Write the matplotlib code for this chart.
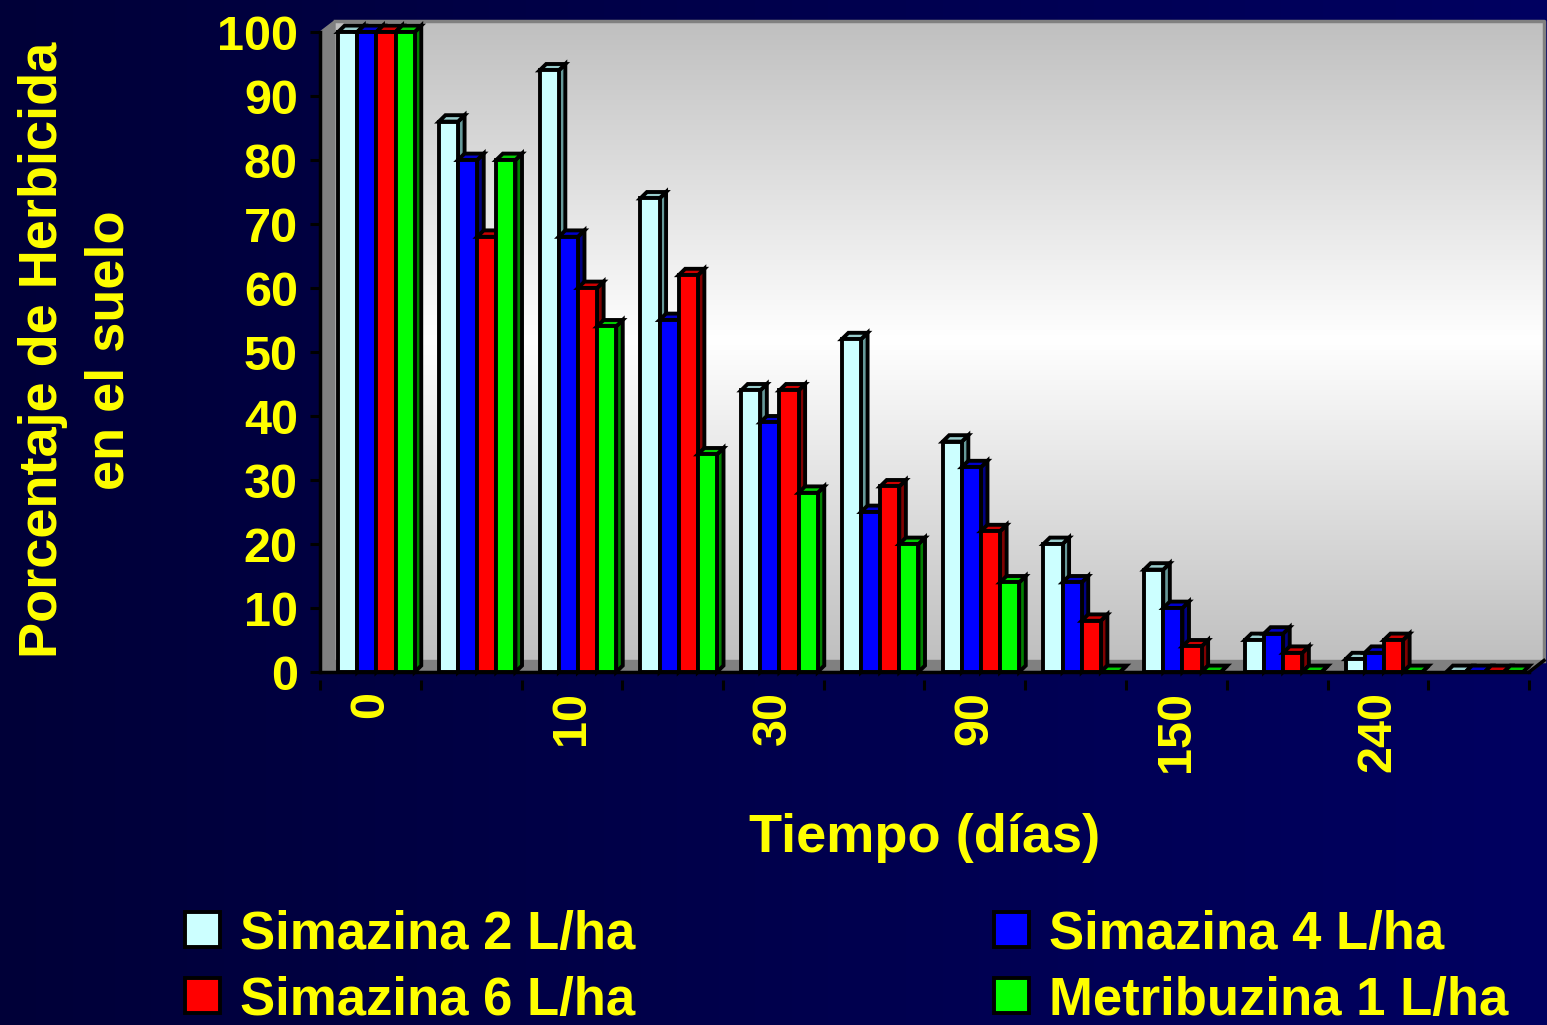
import matplotlib
matplotlib.use("Agg")
import matplotlib.pyplot as plt
import numpy as np
from matplotlib.patches import Polygon, Rectangle

# data
tiempo = ["0", "", "10", "", "30", "", "90", "", "150", "", "240", ""]
series = ["Simazina 2 L/ha", "Simazina 4 L/ha", "Simazina 6 L/ha", "Metribuzina 1 L/ha"]
simazina_2 = [100, 86, 94, 74, 44, 52, 36, 20, 16, 5, 2, 0]
simazina_4 = [100, 80, 68, 55, 39, 25, 32, 14, 10, 6, 3, 0]
simazina_6 = [100, 68, 60, 62, 44, 29, 22, 8, 4, 3, 5, 0]
metribuzina_1 = [100, 80, 54, 34, 28, 20, 14, 0, 0, 0, 0, 0]

front = ["#CCFFFF", "#0000FF", "#FF0000", "#00FF00"]
side = ["#669999", "#000080", "#800000", "#008000"]
top = ["#99CCCC", "#0000CC", "#CC0000", "#00CC00"]

yellow = "#FFFF00"
font = "Liberation Sans"
W, H = 1547, 1025

fig = plt.figure(figsize=(W / 100, H / 100), dpi=100)

# navy background
bg = fig.add_axes([0, 0, 1, 1], zorder=-10)
grad = np.linspace(0, 1, 256)[None, :]
navy = np.zeros((1, 256, 3))
navy[..., 2] = 0.22 + 0.16 * grad
bg.imshow(navy, aspect="auto", extent=(0, 1, 0, 1))
bg.axis("off")

# axes placed in pixels: x=0 at 320px, y=0 at 672px, y=100 at 32px
x0px, x1px = 320, 1547
y_per_px = 100 / 640
xmax = 12 * (x1px - x0px) / 1209
ybot = -(680 - 672) * y_per_px
ytop = (672 - 18) * y_per_px
ax = fig.add_axes([x0px / W, (H - 680) / H, (x1px - x0px) / W, (680 - 18) / H])
ax.patch.set_alpha(0)

wdx, wdy = 15 * 12 / 1209, 11.5 * y_per_px

# back wall gradient: gray - white - gray
g = 1 - 0.25 * np.abs(np.linspace(-1, 1, 256))
wall = np.stack([g, g, g], axis=-1)[:, None, :].repeat(2, axis=1)
ax.imshow(wall, aspect="auto", extent=(wdx, 12 + wdx, wdy, 100 + wdy), zorder=0)
ax.plot([wdx, 12 + wdx, 12 + wdx], [100 + wdy, 100 + wdy, wdy], color="#808080", lw=2.5, zorder=1)

# left wall and floor
ax.add_patch(Polygon([(0, 0), (0, 100), (wdx, 100 + wdy), (wdx, wdy)], closed=True,
                     facecolor="#808080", edgecolor="#808080", lw=1, zorder=1))
ax.add_patch(Polygon([(0, 0), (12, 0), (12 + wdx, wdy), (wdx, wdy)], closed=True,
                     facecolor="#808080", edgecolor="#808080", lw=1, zorder=1))

# 3d bars
values = [simazina_2, simazina_4, simazina_6, metribuzina_1]
bw, dx, dy = 0.19, 0.065, 1.0
lw = 2.8
z = 2
for i in range(len(tiempo)):
    for j, vals in enumerate(values):
        h = vals[i]
        xl = i + 0.18 + j * bw
        xr = xl + bw
        kw = dict(closed=True, edgecolor="black", lw=lw, joinstyle="miter")
        ax.add_patch(Polygon([(xr, 0), (xr + dx, dy), (xr + dx, h + dy), (xr, h)],
                             facecolor=side[j], zorder=z, **kw))
        ax.add_patch(Polygon([(xl, h), (xr, h), (xr + dx, h + dy), (xl + dx, h + dy)],
                             facecolor=top[j], zorder=z, **kw))
        ax.add_patch(Rectangle((xl, 0), bw, h, facecolor=front[j], zorder=z + 1,
                               edgecolor="black", lw=lw, joinstyle="miter"))
        z += 2

# axis lines
ax.plot([0, 0], [0, 100], color="black", lw=2.5, zorder=200, clip_on=False)
ax.plot([0, 12], [0, 0], color="black", lw=2.5, zorder=200, clip_on=False)
ax.plot([12, 12 + wdx], [0, wdy], color="black", lw=2.5, zorder=200, clip_on=False)
for s in ax.spines.values():
    s.set_visible(False)

ax.set_xlim(0, xmax)
ax.set_ylim(ybot, ytop)

ax.set_yticks(np.arange(0, 101, 10))
ax.set_yticklabels([str(v) for v in range(0, 101, 10)])
ax.tick_params(axis="y", length=7, width=2.2, color="black", pad=9,
               labelsize=35, labelcolor=yellow)
for lab in ax.get_yticklabels():
    lab.set_fontfamily(font)
    lab.set_fontweight("bold")

ax.set_xticks(np.arange(0, 13))
ax.set_xticklabels([])
ax.tick_params(axis="x", length=7, width=2.2, color="black", direction="out")
for i, t in enumerate(tiempo):
    if t:
        ax.text(i + 0.5, -3.0, t, rotation=90, ha="center", va="top", fontsize=35,
                color=yellow, fontweight="bold", family=font, clip_on=False)

ax.text(6.0, -26.0, "Tiempo (días)", ha="center", va="center", fontsize=39,
        color=yellow, fontweight="bold", family=font, clip_on=False)
fig.text(76 / W, 1 - 350 / H, "Porcentaje de Herbicida\nen el suelo", rotation=90,
         ha="center", va="center", fontsize=39, color=yellow, fontweight="bold",
         family=font, linespacing=1.42, multialignment="center")

# legend, laid out in two columns
leg_x = [185, 994]
leg_y = [929, 995]
for k, name in enumerate(series):
    row, col = divmod(k, 2)
    px, py = leg_x[col], leg_y[row]
    fig.patches.append(Rectangle((px / W, 1 - (py + 18) / H), 35 / W, 35 / H,
                                 transform=fig.transFigure, facecolor=front[k],
                                 edgecolor="black", lw=2.8))
    fig.text((px + 55) / W, 1 - py / H, name, ha="left", va="center_baseline",
             fontsize=38, color=yellow, fontweight="bold", family=font)

fig.savefig("out.png", dpi=100)
